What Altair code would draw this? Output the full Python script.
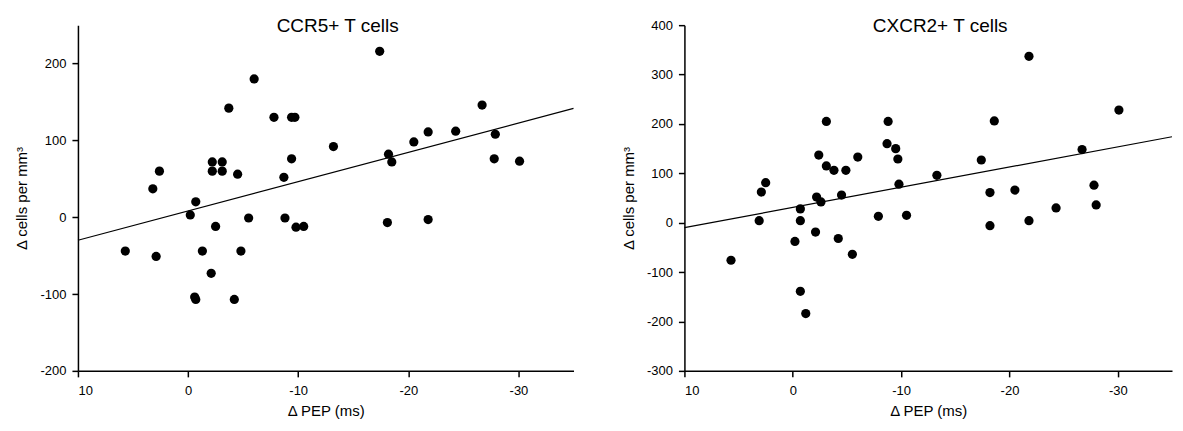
import altair as alt
import pandas as pd

# CCR5+ T cells panel
ccr5_pep = [-17.4, -6.0, -3.7, -7.8, -9.4, -9.7, -26.7, -21.8, -24.3, -20.5, -27.9, -27.8, -30.1,
            -13.2, -18.2, -18.5, -9.4, -8.7, -4.5, -2.2, -3.1, -2.2, -3.1, 2.6, 3.2, -0.7, -0.2,
            -5.5, -8.8, -9.8, -10.5, -2.5, -18.1, -21.8, 5.7, 2.9, -1.3, -4.8, -2.1, -0.6, -0.7, -4.2]
ccr5_cells = [216, 180, 142, 130, 130, 130, 146, 111, 112, 98, 108, 76, 73,
              92, 82, 72, 76, 52, 56, 60, 60, 72, 72, 60, 37, 20, 3,
              -1, -1, -13, -12, -12, -7, -3, -44, -51, -44, -44, -73, -104, -107, -107]
ccr5_fit_pep = [10, -35]
ccr5_fit_cells = [-30, 141.7]

# CXCR2+ T cells panel
cxcr2_pep = [-21.8, -30.1, -3.1, -8.8, -18.6, -8.7, -9.5, -9.7, -17.4, -26.7, -2.4, -6.0, -3.1,
             -3.8, -4.9, -13.3, -9.8, -27.8, -20.5, -18.2, 2.9, 2.5, -4.5, -2.2, -2.6, -28.0,
             -24.3, -0.7, -7.9, -10.5, 3.1, -0.7, -21.8, -18.2, -0.2, -2.1, -4.2, -5.5, 5.7, -0.7, -1.2]
cxcr2_cells = [337, 228, 205, 205, 206, 160, 150, 129, 127, 148, 137, 133, 115,
               106, 106, 96, 78, 76, 66, 61, 62, 81, 56, 52, 42, 36,
               30, 28, 13, 15, 4, 4, 4, -6, -38, -19, -32, -64, -76, -139, -184]
cxcr2_fit_pep = [10, -35]
cxcr2_fit_cells = [-10, 174]

x_ticks = [10, 0, -10, -20, -30]
ccr5_yticks = [-200, -100, 0, 100, 200]
cxcr2_yticks = [-300, -200, -100, 0, 100, 200, 300, 400]

FONT = "Liberation Sans"
H = 346


def panel(pep, cells, fpep, fcells, title, ydom, yticks, dx, w):
    pts = pd.DataFrame({"pep": pep, "cells": cells})
    fit = pd.DataFrame({"pep": fpep, "cells": fcells})
    ttl = pd.DataFrame({"t": [title]})
    xenc = alt.X("pep:Q",
                 scale=alt.Scale(domain=[10, -35], nice=False, zero=False),
                 axis=alt.Axis(values=x_ticks, title="Δ PEP (ms)",
                               labelExpr="'' + datum.value", labelPadding=8,
                               titlePadding=6))
    yenc = alt.Y("cells:Q",
                 scale=alt.Scale(domain=ydom, nice=False, zero=False),
                 axis=alt.Axis(values=yticks, title="Δ cells per mm³",
                               labelExpr="'' + datum.value", labelPadding=6,
                               titlePadding=10))
    p = alt.Chart(pts).mark_circle(size=85, color="black", opacity=1).encode(x=xenc, y=yenc)
    l = alt.Chart(fit).mark_line(color="black", strokeWidth=1.2).encode(x="pep:Q", y="cells:Q")
    t = alt.Chart(ttl).mark_text(font=FONT, fontSize=19, color="black", align="center",
                                 baseline="alphabetic").encode(
        text="t:N", x=alt.value(w / 2 + dx), y=alt.value(7))
    return alt.layer(l, p, t).properties(width=w, height=H)


left = panel(ccr5_pep, ccr5_cells, ccr5_fit_pep, ccr5_fit_cells, "CCR5+ T cells",
             [-200, 250], ccr5_yticks, 12, 496)
right = panel(cxcr2_pep, cxcr2_cells, cxcr2_fit_pep, cxcr2_fit_cells, "CXCR2+ T cells",
              [-300, 400], cxcr2_yticks, 12, 488)

chart = alt.hconcat(left, right, spacing=44).resolve_scale(y="independent").configure_axis(
    grid=False, domainColor="black", domainWidth=1.5, tickColor="black", tickWidth=1.5,
    tickSize=6, labelFont=FONT, labelFontSize=13, labelColor="black",
    titleFont=FONT, titleFontSize=15, titleFontWeight="normal", titleColor="black"
).configure_view(stroke=None).properties(padding={"left": 6, "top": 9, "right": 0, "bottom": 0})

chart.save("out.html", embed_options={"renderer": "svg", "actions": False})
